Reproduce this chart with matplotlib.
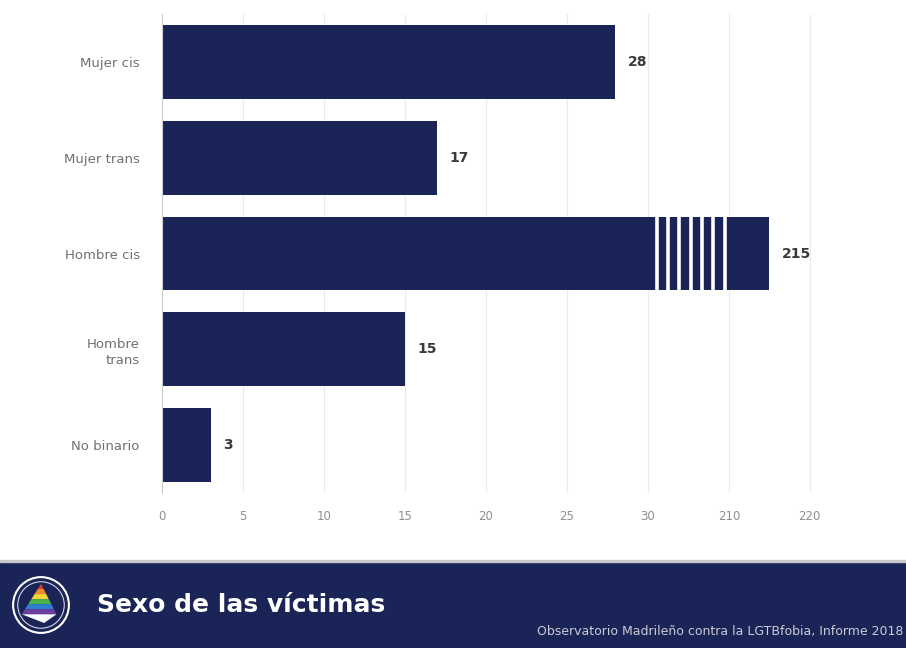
import matplotlib
matplotlib.use("Agg")
import matplotlib.pyplot as plt
import numpy as np
from matplotlib.patches import Circle, Polygon, Rectangle

categories = ["Mujer cis", "Mujer trans", "Hombre cis", "Hombre\ntrans", "No binario"]
values = [28, 17, 215, 15, 3]
tick_values = [0, 5, 10, 15, 20, 25, 30, 210, 220]
tick_labels = ["0", "5", "10", "15", "20", "25", "30", "210", "220"]

title = "Sexo de las víctimas"
source = "Observatorio Madrileño contra la LGTBfobia, Informe 2018"

NAVY = "#1b2456"

def fwd(v):
    v = np.asarray(v, dtype=float)
    return np.where(v <= 30, v,
           np.where(v <= 210, 30 + (v - 30) * 5.0 / 180.0, 35 + (v - 210) * 0.5))

def inv(p):
    p = np.asarray(p, dtype=float)
    return np.where(p <= 30, p,
           np.where(p <= 35, 30 + (p - 30) * 180.0 / 5.0, 210 + (p - 35) / 0.5))

fig = plt.figure(figsize=(9.06, 6.48), dpi=100)
plt.rcParams['font.family'] = ['DejaVu Sans']

ax = fig.add_axes([162/906, 155/648, 664/906, 479/648])
ax.set_xscale('function', functions=(fwd, inv))

y = np.arange(len(categories))
ax.barh(y, values, height=0.77, color=NAVY, zorder=2)
ax.set_ylim(4.5, -0.5)
ax.set_xlim(0, 222)

# break stripes on bars exceeding the break
for yi, v in zip(y, values):
    if v > 30:
        for p in np.linspace(30.55, 34.75, 7):
            xv = float(inv(p))
            ax.vlines(xv, yi - 0.385, yi + 0.385, color="white", lw=2.6, zorder=3)

for yi, v in zip(y, values):
    ax.annotate(str(v), (v, yi), xytext=(9, 0), textcoords="offset points",
                va="center", ha="left", fontsize=10, fontweight="bold", color="#3a3a3a")

ax.set_xticks(tick_values)
ax.set_xticklabels(tick_labels, fontsize=8.5, color="#8f8f8f")
ax.set_yticks(y)
ax.set_yticklabels(categories, fontsize=9.5, color="#707070", linespacing=1.3)
ax.tick_params(axis='both', length=0, pad=12)
ax.tick_params(axis='y', pad=16)
ax.grid(axis='x', color="#ececec", lw=0.8, zorder=0)
for s in ["top", "right", "bottom"]:
    ax.spines[s].set_visible(False)
ax.spines["left"].set_color("#cccccc")
ax.spines["left"].set_linewidth(0.8)

# footer band
fig.patches.append(Rectangle((0, 0), 1, 86/648, transform=fig.transFigure,
                             color=NAVY, zorder=0))
fig.patches.append(Rectangle((0, 86/648), 1, 2/648, transform=fig.transFigure,
                             color="#c8c8cc", zorder=0))
fig.text(97/906, 43/648, title, color="white", fontsize=18, fontweight="bold",
         va="center", ha="left")
fig.text(903/906, 16/648, source, color="#c9cbd6", fontsize=9, va="center", ha="right")

# logo
lax = fig.add_axes([10/906, 12/648, 62/906, 62/648], zorder=5)
lax.set_xlim(-1, 1); lax.set_ylim(-1, 1); lax.set_aspect('equal'); lax.axis('off')
lax.patch.set_alpha(0)
lax.add_patch(Circle((0, 0), 0.9, facecolor="none", edgecolor="white", lw=1.5))
lax.add_patch(Circle((0, 0), 0.75, facecolor="none", edgecolor="#cfd3e6", lw=0.8))
cols = ["#d93b3b", "#f08a2c", "#f3d23a", "#4cb24a", "#2f7fd0", "#6b3fa0"]
top, bot, lx, rx = 0.68, -0.3, -0.62, 0.5
h = (top - bot) / len(cols)
for i, c in enumerate(cols):
    y0 = top - i * h
    y1 = y0 - h
    def xl(yy): return (yy - top) / (bot - top) * lx
    def xr(yy): return (yy - top) / (bot - top) * rx
    lax.add_patch(Polygon([[xl(y0), y0], [xr(y0), y0], [xr(y1), y1], [xl(y1), y1]],
                          closed=True, color=c, lw=0))
lax.add_patch(Polygon([[lx, bot], [rx, bot], [0.1, -0.58]], closed=True,
                      color="white", lw=0))

fig.savefig("out.png", dpi=100)
